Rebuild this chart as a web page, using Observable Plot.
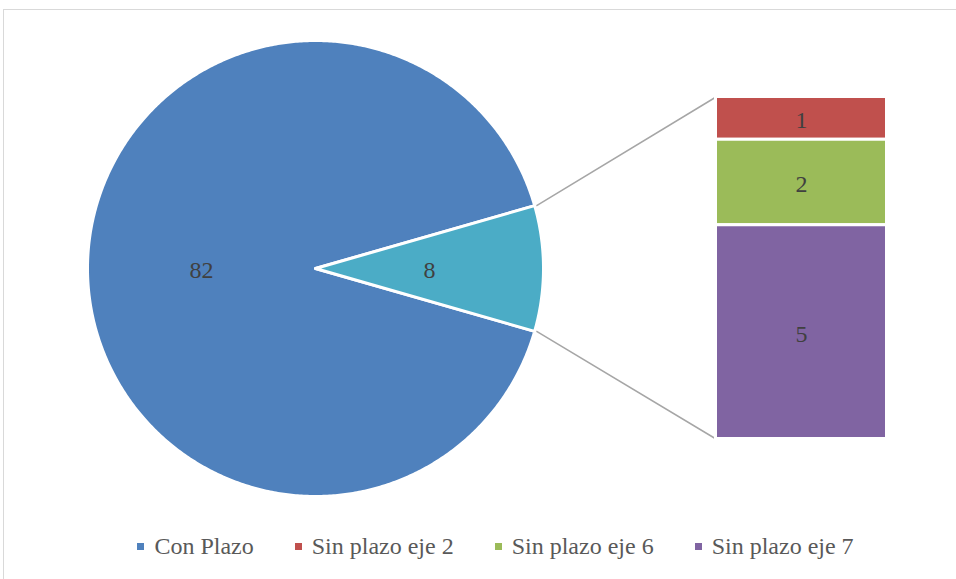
<!DOCTYPE html>
<html>
<head>
<meta charset="utf-8">
<script src="https://cdn.jsdelivr.net/npm/d3@7"></script>
<script src="https://cdn.jsdelivr.net/npm/@observablehq/plot@0.6"></script>
<style>
  html, body { margin: 0; padding: 0; background: #fff; overflow: hidden; }
  #frame { position: absolute; left: 3px; top: 9px; width: 1000px; height: 1000px; border: 1px solid #d9d9d9; }
  #chart { position: absolute; left: 0; top: 0; }
  #legend { position: absolute; left: 0; top: 533px; width: 991px; display: flex; justify-content: center; gap: 41px;
            font-family: "Liberation Serif", serif; font-size: 24px; color: #595959; }
  .item { display: flex; align-items: center; white-space: nowrap; }
  .sw { width: 7px; height: 7px; margin-right: 10px; margin-top: 0px; }
</style>
</head>
<body>
<div id="frame"></div>
<div id="chart"></div>
<div id="legend"></div>
<script>
// ---- data ----
const categories = ["Con Plazo", "Sin plazo eje 2", "Sin plazo eje 6", "Sin plazo eje 7"];
const values = [82, 1, 2, 5];
const colors = ["#4F81BD", "#C0504D", "#9BBB59", "#8064A2"];
const otherName = "Otro";
const otherColor = "#4BACC6";

// ---- layout ----
const W = 956, H = 530;
const cx = 315, cy = 268, R = 228;
const barX1 = 715.5, barX2 = 886.5, barTop = 96.5, barBottom = 438.5;

const secondary = categories.slice(1).map((name, i) => ({name, value: values[i + 1], color: colors[i + 1]}));
const otherValue = d3.sum(secondary, d => d.value);
const pieData = [
  {name: categories[0], value: values[0], color: colors[0]},
  {name: otherName, value: otherValue, color: otherColor}
];
const total = d3.sum(pieData, d => d.value);

// angles (degrees, math convention): "Otro" centered on the right
const otherSpan = otherValue / total * 360;
const slices = [
  {...pieData[0], a0: otherSpan / 2, a1: 360 - otherSpan / 2},
  {...pieData[1], a0: -otherSpan / 2, a1: otherSpan / 2}
];
const rad = a => a * Math.PI / 180;
const pt = (a, r) => ({x: cx + r * Math.cos(rad(a)), y: cy - r * Math.sin(rad(a))});

const piePts = [];
for (const s of slices) {
  piePts.push({name: s.name, ...pt(0, 0)});
  const n = Math.ceil((s.a1 - s.a0) / 0.5);
  for (let i = 0; i <= n; i++) piePts.push({name: s.name, ...pt(s.a0 + (s.a1 - s.a0) * i / n, R)});
}
const pieLabels = slices.map(s => ({label: String(s.value), ...pt((s.a0 + s.a1) / 2, R / 2)}));

// stacked bar
const unit = (barBottom - barTop) / otherValue;
let acc = 0;
const barData = secondary.map(d => {
  const y1 = barTop + acc * unit; acc += d.value;
  return {...d, y1, y2: barTop + acc * unit};
});

// connector lines
const edgeTop = pt(otherSpan / 2, R), edgeBot = pt(-otherSpan / 2, R);
const connectors = [
  {id: "t", x: edgeTop.x + 2, y: edgeTop.y}, {id: "t", x: barX1, y: barTop},
  {id: "b", x: edgeBot.x + 2, y: edgeBot.y}, {id: "b", x: barX1, y: barBottom}
];

const names = [...slices.map(d => d.name), ...secondary.map(d => d.name)];
const cols = [...slices.map(d => d.color), ...secondary.map(d => d.color)];

const chart = Plot.plot({
  width: W, height: H,
  margin: 0,
  x: {domain: [0, W], range: [0, W], axis: null},
  y: {domain: [0, H], range: [0, H], axis: null},
  color: {domain: names, range: cols},
  style: {background: "transparent", fontFamily: "'Liberation Serif', serif"},
  marks: [
    Plot.line(connectors, {x: "x", y: "y", z: "id", stroke: "#a6a6a6", strokeWidth: 1.5}),
    Plot.line(piePts, {x: "x", y: "y", z: "name", fill: "name", stroke: "white", strokeWidth: 3, curve: "linear-closed", strokeLinejoin: "round"}),
    Plot.rect(barData, {x1: () => barX1, x2: () => barX2, y1: "y1", y2: "y2", fill: "name", stroke: "white", strokeWidth: 3}),
    Plot.text(pieLabels, {x: "x", y: "y", text: "label", fill: "#404040", fontSize: 24, dy: 2}),
    Plot.text(barData, {x: () => (barX1 + barX2) / 2, y: d => (d.y1 + d.y2) / 2, text: d => String(d.value), fill: "#404040", fontSize: 24, dy: 2})
  ]
});
document.getElementById("chart").appendChild(chart);

const legend = document.getElementById("legend");
categories.forEach((c, i) => {
  const it = document.createElement("div"); it.className = "item";
  const sw = document.createElement("span"); sw.className = "sw"; sw.style.background = colors[i];
  const t = document.createElement("span"); t.textContent = c;
  it.appendChild(sw); it.appendChild(t); legend.appendChild(it);
});
</script>
</body>
</html>
